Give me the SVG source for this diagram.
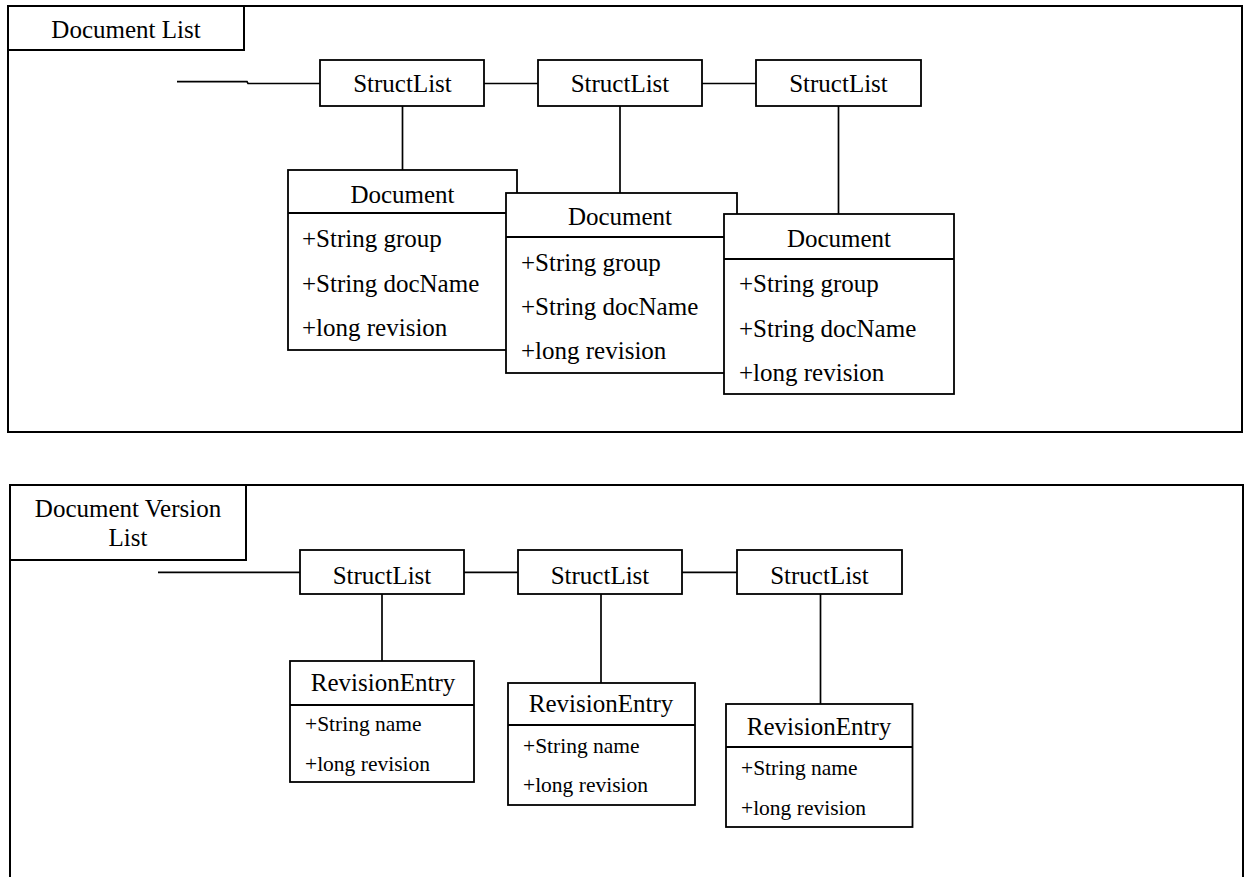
<svg xmlns="http://www.w3.org/2000/svg" width="1244" height="877" viewBox="0 0 1244 877">
  <style>
    .frame { fill: none; stroke: #000; stroke-width: 2; }
    .box { fill: #fff; stroke: #000; stroke-width: 1.8; }
    .div { stroke: #000; stroke-width: 1.8; }
    .wire { fill: none; stroke: #000; stroke-width: 1.7; }
    text { font-family: "Liberation Serif", "Times New Roman", serif; font-size: 25px; fill: #000; }
    .c { text-anchor: middle; }
    .sm { font-size: 21.5px; }
  </style>

  <!-- Document List frame -->
  <g id="frame-document-list">
    <rect class="frame" x="8" y="6" width="1234" height="426"/>
    <rect class="frame" x="8" y="6" width="236" height="44"/>
    <text class="c" x="126" y="38">Document List</text>
  </g>

  <!-- Document Version List frame (open at the bottom) -->
  <g id="frame-document-version-list">
    <path class="frame" d="M10 877 V485 H1243 V877"/>
    <rect class="frame" x="10" y="485" width="236" height="75"/>
    <text class="c" x="128" y="517">Document Version</text>
    <text class="c" x="128" y="546">List</text>
  </g>

  <!-- connectors -->
  <g id="connectors">
    <path class="wire" d="M177 81.7 H247 L248 83.5 H320"/>
    <path class="wire" d="M484 83.5 H538"/>
    <path class="wire" d="M702 83.5 H756"/>
    <path class="wire" d="M402.5 106 V170"/>
    <path class="wire" d="M620 106 V193"/>
    <path class="wire" d="M838.5 106 V214"/>

    <path class="wire" d="M158 572.3 H300"/>
    <path class="wire" d="M464 572.3 H518"/>
    <path class="wire" d="M682 572.3 H737"/>
    <path class="wire" d="M382 594 V661"/>
    <path class="wire" d="M601 594 V683"/>
    <path class="wire" d="M820.5 594 V704"/>
  </g>

  <!-- StructList chain, document list -->
  <g id="structlist-1">
    <rect class="box" x="320" y="60" width="164" height="46"/>
    <text class="c" x="402.5" y="92">StructList</text>
  </g>
  <g id="structlist-2">
    <rect class="box" x="538" y="60" width="164" height="46"/>
    <text class="c" x="620" y="92">StructList</text>
  </g>
  <g id="structlist-3">
    <rect class="box" x="756" y="60" width="165" height="46"/>
    <text class="c" x="838.5" y="92">StructList</text>
  </g>

  <!-- Document records (later ones overlap earlier ones) -->
  <g id="document-1">
    <rect class="box" x="288" y="170" width="229" height="180"/>
    <line class="div" x1="288" y1="213" x2="517" y2="213"/>
    <text class="c" x="402.5" y="203">Document</text>
    <text x="302" y="247">+String group</text>
    <text x="302" y="292">+String docName</text>
    <text x="302" y="336">+long revision</text>
  </g>
  <g id="document-2">
    <rect class="box" x="506" y="193" width="231" height="180"/>
    <line class="div" x1="506" y1="237" x2="737" y2="237"/>
    <text class="c" x="620" y="225">Document</text>
    <text x="521" y="271">+String group</text>
    <text x="521" y="315">+String docName</text>
    <text x="521" y="359">+long revision</text>
  </g>
  <g id="document-3">
    <rect class="box" x="724" y="214" width="230" height="180"/>
    <line class="div" x1="724" y1="259" x2="954" y2="259"/>
    <text class="c" x="839" y="247">Document</text>
    <text x="739" y="292">+String group</text>
    <text x="739" y="337">+String docName</text>
    <text x="739" y="381">+long revision</text>
  </g>

  <!-- StructList chain, version list -->
  <g id="structlist-4">
    <rect class="box" x="300" y="550" width="164" height="44"/>
    <text class="c" x="382" y="583.5">StructList</text>
  </g>
  <g id="structlist-5">
    <rect class="box" x="518" y="550" width="164" height="44"/>
    <text class="c" x="600" y="583.5">StructList</text>
  </g>
  <g id="structlist-6">
    <rect class="box" x="737" y="550" width="165" height="44"/>
    <text class="c" x="819.5" y="583.5">StructList</text>
  </g>

  <!-- RevisionEntry records -->
  <g id="revision-entry-1">
    <rect class="box" x="290" y="661" width="184" height="121"/>
    <line class="div" x1="290" y1="705" x2="474" y2="705"/>
    <text class="c" x="383" y="691">RevisionEntry</text>
    <text class="sm" x="305" y="731">+String name</text>
    <text class="sm" x="305" y="771">+long revision</text>
  </g>
  <g id="revision-entry-2">
    <rect class="box" x="508" y="683" width="187" height="122"/>
    <line class="div" x1="508" y1="725" x2="695" y2="725"/>
    <text class="c" x="601" y="712">RevisionEntry</text>
    <text class="sm" x="523" y="753">+String name</text>
    <text class="sm" x="523" y="792">+long revision</text>
  </g>
  <g id="revision-entry-3">
    <rect class="box" x="726" y="704" width="186.5" height="123"/>
    <line class="div" x1="726" y1="747" x2="912.5" y2="747"/>
    <text class="c" x="819" y="735">RevisionEntry</text>
    <text class="sm" x="741" y="775">+String name</text>
    <text class="sm" x="741" y="815">+long revision</text>
  </g>
</svg>
